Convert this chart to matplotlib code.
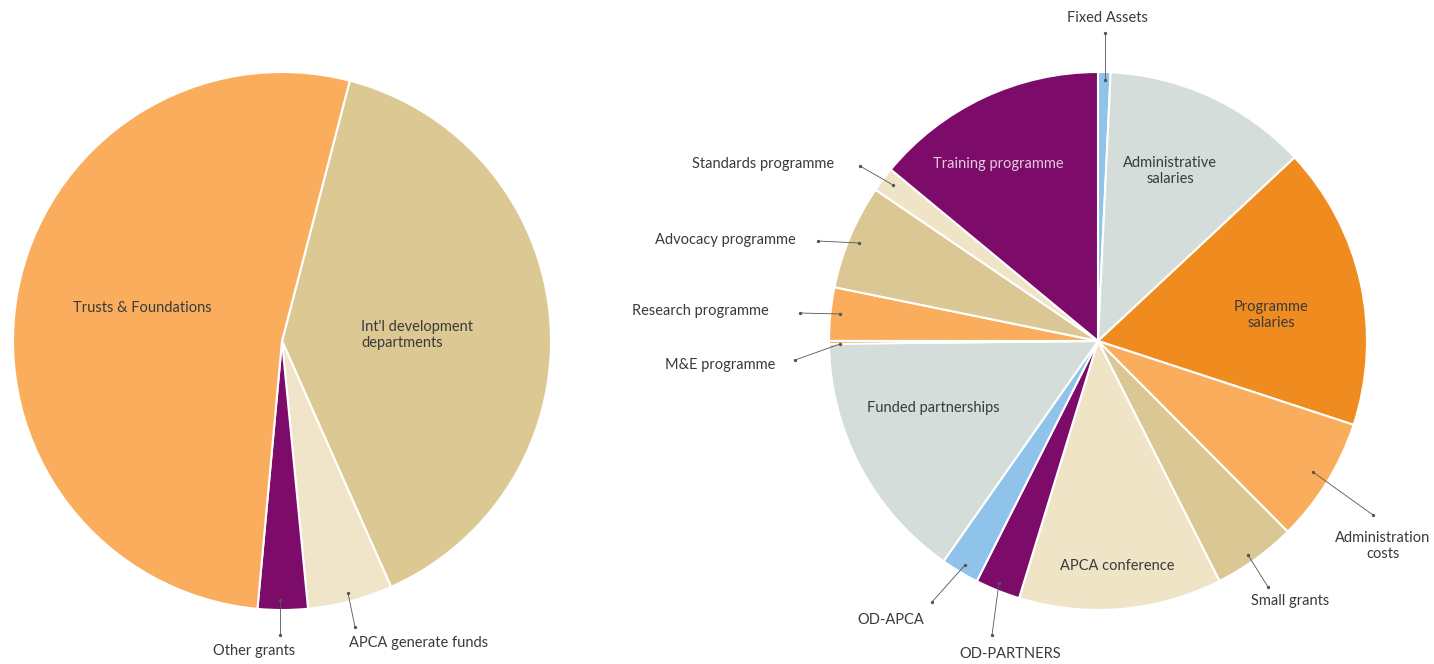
import matplotlib
matplotlib.use("Agg")
import matplotlib.pyplot as plt

plt.rcParams['font.family'] = ['Lato', 'DejaVu Sans']

# income (left pie), clockwise from the Trusts / Int'l boundary
inc_labels = ["Int'l development\ndepartments", "APCA generate funds", "Other grants", "Trusts & Foundations"]
inc_vals = [39.3, 5.1, 3.0, 52.6]
inc_cols = ["#DBC893", "#F0E5C8", "#7C0B69", "#FAAE5D"]

# expenditure (right pie), clockwise from top
exp_labels = ["Fixed Assets", "Administrative\nsalaries", "Programme\nsalaries", "Administration\ncosts",
              "Small grants", "APCA conference", "OD-PARTNERS", "OD-APCA", "Funded partnerships",
              "M&E programme", "Research programme", "Advocacy programme", "Standards programme",
              "Training programme"]
exp_vals = [0.75, 12.3, 17.0, 7.5, 5.0, 12.2, 2.7, 2.3, 15.1, 0.17, 3.2, 6.3, 1.5, 14.0]
exp_cols = ["#8FC3E9", "#D5DDDB", "#EF8B1F", "#FAAE5D", "#DBC794", "#F0E4C7", "#7C0B69",
            "#8FC3E9", "#D5DDDB", "#EF8B1F", "#FAAE5D", "#DBC794", "#F0E4C7", "#7C0B69"]

W, H = 1434, 664
fig = plt.figure(figsize=(W / 100, H / 100), dpi=100)
ax = fig.add_axes([0, 0, 1, 1])

def P(x, y):
    # pixel coords (y down) -> data coords
    return (x, H - y)

wp = dict(edgecolor="white", linewidth=1.5)
ax.pie(inc_vals, colors=inc_cols, startangle=75.4, counterclock=False,
       center=P(282, 341), radius=269, wedgeprops=wp, frame=True)
ax.pie(exp_vals, colors=exp_cols, startangle=90, counterclock=False,
       center=P(1098, 341), radius=269, wedgeprops=wp, frame=True)
ax.set_xlim(0, W)
ax.set_ylim(0, H)
ax.set_aspect("equal")
ax.axis("off")

tc = "#3a3a3a"
fs = 10.5

def txt(s, x, y, ha="center", color=tc):
    ax.text(*P(x, y + 1), s, ha=ha, va="center", fontsize=fs, color=color,
            linespacing=1.15)

def lead(x0, y0, x1, y1):
    a, b = P(x0, y0), P(x1, y1)
    ax.plot([a[0], b[0]], [a[1], b[1]], color="#555555", lw=0.6)
    ax.plot([a[0], b[0]], [a[1], b[1]], "o", color="#555555", ms=1.4)

# left pie labels
txt(inc_labels[3], 142, 307)
txt(inc_labels[0], 361, 334, ha="left")
txt(inc_labels[2], 254, 650)
lead(280, 600, 280, 635)
txt(inc_labels[1], 419, 642)
lead(348, 593, 355, 627)

# right pie labels
txt(exp_labels[0], 1107, 17)
lead(1105, 80, 1105, 33)
txt(exp_labels[13], 998, 163, color="#E3CCDD")
txt(exp_labels[1], 1170, 170)
txt(exp_labels[2], 1271, 314)
txt(exp_labels[3], 1383, 545)
lead(1313, 472, 1373, 515)
txt(exp_labels[4], 1290, 600)
lead(1248, 555, 1268, 587)
txt(exp_labels[5], 1117, 565)
txt(exp_labels[6], 1010, 653)
lead(999, 583, 992, 635)
txt(exp_labels[7], 891, 619)
lead(965, 565, 932, 602)
txt(exp_labels[8], 933, 407)
txt(exp_labels[9], 720, 364)
lead(840, 344, 795, 360)
txt(exp_labels[10], 700, 310)
lead(840, 314, 800, 313)
txt(exp_labels[11], 725, 239)
lead(859, 243, 818, 241)
txt(exp_labels[12], 763, 163)
lead(893, 185, 860, 166)

fig.savefig("out.png", dpi=100)
